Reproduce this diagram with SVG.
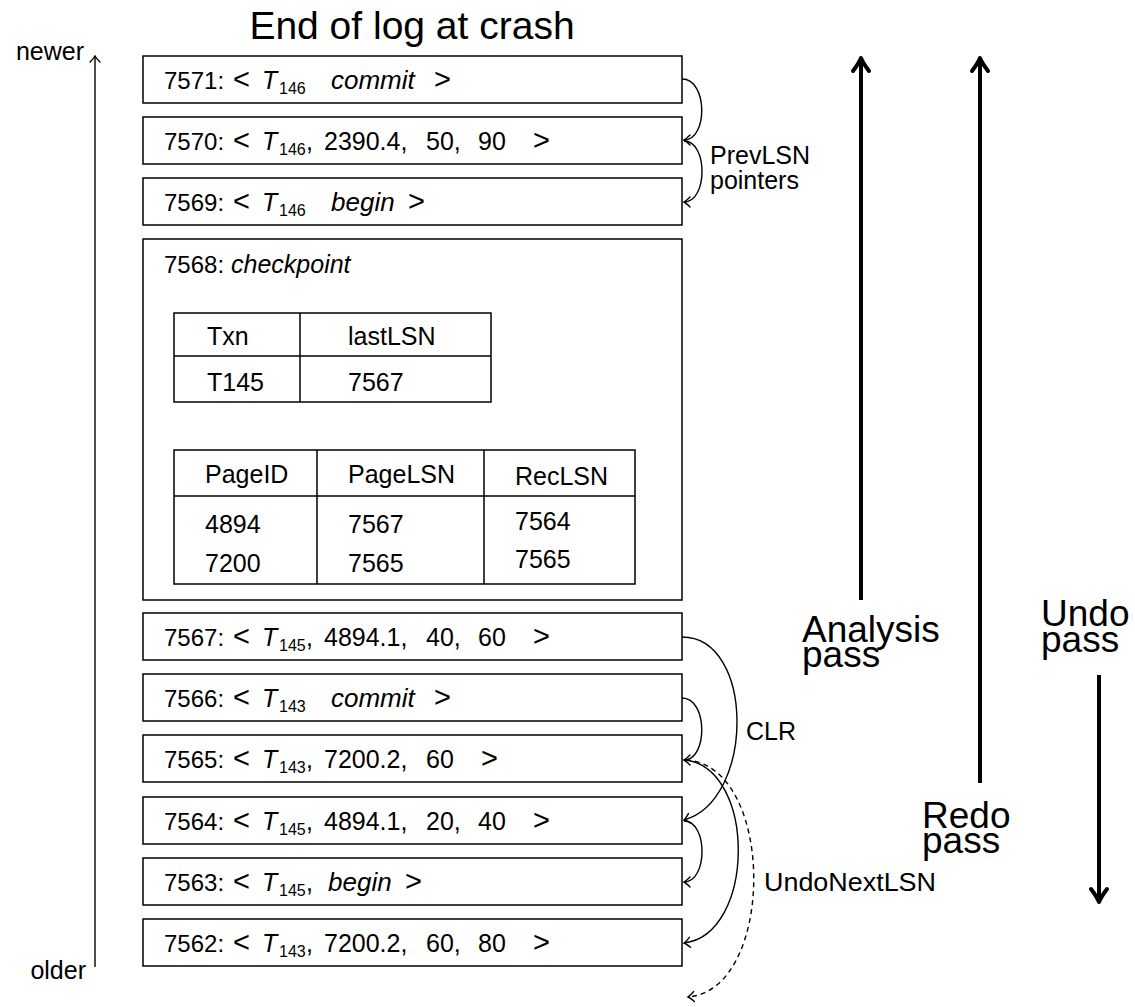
<svg xmlns="http://www.w3.org/2000/svg" width="1135" height="1007" viewBox="0 0 1135 1007">
<style>
text{font-family:"Liberation Sans",Arial,sans-serif;fill:#000}
.e{font-size:25px}
.n{font-size:24px}
.s{font-size:16px}
.r{font-size:29px}
.i{font-style:italic}
.w{font-style:italic;font-size:26px}
.lbl{font-size:25px}
.big{font-size:37px}
.box{fill:#fff;stroke:#000;stroke-width:1.5}
.tl{fill:none;stroke:#000;stroke-width:1.5}
.c{fill:none;stroke:#000;stroke-width:1.4}
.thick{fill:none;stroke:#000;stroke-width:4}
</style>
<defs>
<marker id="a" markerUnits="userSpaceOnUse" markerWidth="20" markerHeight="20" viewBox="-10 -10 20 20" refX="0" refY="0" orient="auto">
<path d="M-6,-5 Q-2,-1 0,0 Q-2,1 -6,5" fill="none" stroke="#000" stroke-width="1.4" stroke-linecap="round"/>
</marker>
<marker id="A" markerUnits="userSpaceOnUse" markerWidth="40" markerHeight="40" viewBox="-20 -20 40 40" refX="0" refY="0" orient="auto">
<path d="M-13,-8 Q-5,-2 0,0 Q-5,2 -13,8" fill="none" stroke="#000" stroke-width="4" stroke-linecap="round" stroke-linejoin="round"/>
</marker>
</defs>

<text x="412" y="39" font-size="39" text-anchor="middle">End of log at crash</text>

<g id="timeline">
<line x1="95" y1="967" x2="95" y2="56" stroke="#000" stroke-width="1.4" marker-end="url(#a)"/>
<text class="lbl" x="84" y="60" text-anchor="end">newer</text>
<text class="lbl" x="86" y="979" text-anchor="end">older</text>
</g>

<g id="r7571"><rect class="box" x="143" y="56" width="539" height="47"/>
<text class="e" y="89"><tspan class="n" x="164">7571:</tspan><tspan class="r" x="233">&lt;</tspan><tspan class="i" x="262">T</tspan><tspan class="s" x="279" dy="5">146</tspan><tspan class="w" x="331" dy="-5">commit</tspan><tspan class="r" x="434">&gt;</tspan></text></g>
<g id="r7570"><rect class="box" x="143" y="117" width="539" height="47"/>
<text class="e" y="150"><tspan class="n" x="164">7570:</tspan><tspan class="r" x="233">&lt;</tspan><tspan class="i" x="262">T</tspan><tspan class="s" x="279" dy="5">146</tspan><tspan x="306" dy="-5">,</tspan><tspan x="324">2390.4,</tspan><tspan x="426">50,</tspan><tspan x="478">90</tspan><tspan class="r" x="533">&gt;</tspan></text></g>
<g id="r7569"><rect class="box" x="143" y="178" width="539" height="47"/>
<text class="e" y="211"><tspan class="n" x="164">7569:</tspan><tspan class="r" x="233">&lt;</tspan><tspan class="i" x="262">T</tspan><tspan class="s" x="279" dy="5">146</tspan><tspan class="w" x="331" dy="-5">begin</tspan><tspan class="r" x="408">&gt;</tspan></text></g>

<g id="r7568"><rect class="box" x="143" y="239" width="539" height="361"/>
<text class="e" x="164" y="273"><tspan class="n">7568:</tspan> <tspan class="i">checkpoint</tspan></text>
<g id="txnTable">
<rect class="tl" x="174" y="313" width="317" height="89"/>
<line class="tl" x1="174" y1="356" x2="491" y2="356"/>
<line class="tl" x1="300" y1="313" x2="300" y2="402"/>
<text class="e" x="207" y="345">Txn</text>
<text class="e" x="348" y="345">lastLSN</text>
<text class="e" x="207" y="391">T145</text>
<text class="e" x="348" y="391">7567</text>
</g>
<g id="dptTable">
<rect class="tl" x="174" y="450" width="461" height="134"/>
<line class="tl" x1="174" y1="496" x2="635" y2="496"/>
<line class="tl" x1="317" y1="450" x2="317" y2="584"/>
<line class="tl" x1="484" y1="450" x2="484" y2="584"/>
<text class="e" x="205" y="483">PageID</text>
<text class="e" x="348" y="483">PageLSN</text>
<text class="e" x="515" y="485">RecLSN</text>
<text class="e" x="205" y="533">4894</text>
<text class="e" x="205" y="572">7200</text>
<text class="e" x="348" y="533">7567</text>
<text class="e" x="348" y="572">7565</text>
<text class="e" x="515" y="530">7564</text>
<text class="e" x="515" y="568">7565</text>
</g>
</g>

<g id="r7567"><rect class="box" x="143" y="613" width="539" height="47"/>
<text class="e" y="646"><tspan class="n" x="164">7567:</tspan><tspan class="r" x="233">&lt;</tspan><tspan class="i" x="262">T</tspan><tspan class="s" x="279" dy="5">145</tspan><tspan x="306" dy="-5">,</tspan><tspan x="324">4894.1,</tspan><tspan x="426">40,</tspan><tspan x="478">60</tspan><tspan class="r" x="533">&gt;</tspan></text></g>
<g id="r7566"><rect class="box" x="143" y="674" width="539" height="47"/>
<text class="e" y="707"><tspan class="n" x="164">7566:</tspan><tspan class="r" x="233">&lt;</tspan><tspan class="i" x="262">T</tspan><tspan class="s" x="279" dy="5">143</tspan><tspan class="w" x="331" dy="-5">commit</tspan><tspan class="r" x="434">&gt;</tspan></text></g>
<g id="r7565"><rect class="box" x="143" y="735" width="539" height="47"/>
<text class="e" y="768"><tspan class="n" x="164">7565:</tspan><tspan class="r" x="233">&lt;</tspan><tspan class="i" x="262">T</tspan><tspan class="s" x="279" dy="5">143</tspan><tspan x="306" dy="-5">,</tspan><tspan x="324">7200.2,</tspan><tspan x="426">60</tspan><tspan class="r" x="481">&gt;</tspan></text></g>
<g id="r7564"><rect class="box" x="143" y="797" width="539" height="47"/>
<text class="e" y="830"><tspan class="n" x="164">7564:</tspan><tspan class="r" x="233">&lt;</tspan><tspan class="i" x="262">T</tspan><tspan class="s" x="279" dy="5">145</tspan><tspan x="306" dy="-5">,</tspan><tspan x="324">4894.1,</tspan><tspan x="426">20,</tspan><tspan x="478">40</tspan><tspan class="r" x="533">&gt;</tspan></text></g>
<g id="r7563"><rect class="box" x="143" y="858" width="539" height="47"/>
<text class="e" y="891"><tspan class="n" x="164">7563:</tspan><tspan class="r" x="233">&lt;</tspan><tspan class="i" x="262">T</tspan><tspan class="s" x="279" dy="5">145</tspan><tspan x="306" dy="-5">,</tspan><tspan class="w" x="328">begin</tspan><tspan class="r" x="405">&gt;</tspan></text></g>
<g id="r7562"><rect class="box" x="143" y="919" width="539" height="47"/>
<text class="e" y="952"><tspan class="n" x="164">7562:</tspan><tspan class="r" x="233">&lt;</tspan><tspan class="i" x="262">T</tspan><tspan class="s" x="279" dy="5">143</tspan><tspan x="306" dy="-5">,</tspan><tspan x="324">7200.2,</tspan><tspan x="426">60,</tspan><tspan x="478">80</tspan><tspan class="r" x="533">&gt;</tspan></text></g>

<g id="connectors">
<path class="c" d="M682,79 C708,79 708,140 684,140" marker-end="url(#a)"/>
<path class="c" d="M684,141 C708,141 708,202 684,202" marker-end="url(#a)"/>
<path class="c" d="M682,637 C755,637 755,800 684,820" marker-end="url(#a)"/>
<path class="c" d="M682,698 C708,698 708,760 684,760" marker-end="url(#a)"/>
<path class="c" d="M686,760 C757,770 755,935 684,943" marker-end="url(#a)"/>
<path class="c" d="M684,821 C708,821 708,882 684,882" marker-end="url(#a)"/>
<path class="c" d="M686,760 C776,765 776,990 688,997" stroke-dasharray="5,4" marker-end="url(#a)"/>
</g>
<g id="labels">
<text class="lbl" x="710" y="164">PrevLSN<tspan x="710" dy="25">pointers</tspan></text>
<text class="lbl" x="746" y="740">CLR</text>
<text class="lbl" x="764" y="891" textLength="172" lengthAdjust="spacingAndGlyphs">UndoNextLSN</text>
</g>

<g id="passes">
<line class="thick" x1="861" y1="600" x2="861" y2="58" marker-end="url(#A)"/>
<line class="thick" x1="980" y1="783" x2="980" y2="58" marker-end="url(#A)"/>
<line class="thick" x1="1099" y1="675" x2="1099" y2="902" marker-end="url(#A)"/>
<text class="big" x="802" y="642">Analysis<tspan x="802" dy="25">pass</tspan></text>
<text class="big" x="922" y="828">Redo<tspan x="922" dy="25">pass</tspan></text>
<text class="big" x="1041" y="626">Undo<tspan x="1041" dy="26">pass</tspan></text>
</g>
</svg>
